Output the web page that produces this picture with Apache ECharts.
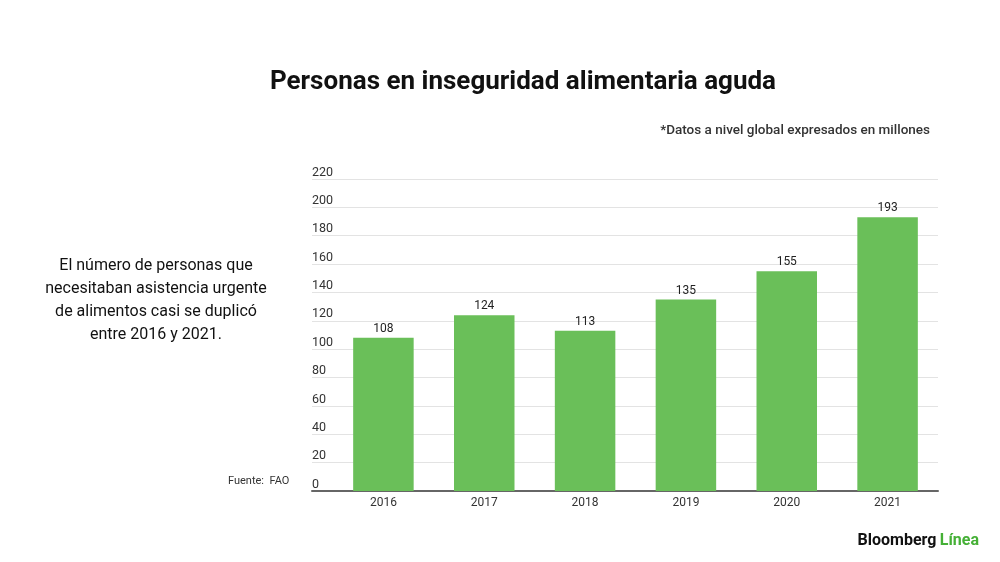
<!DOCTYPE html>
<html>
<head>
<meta charset="utf-8">
<script src="https://cdn.jsdelivr.net/npm/echarts@6/dist/echarts.min.js"></script>
<style>html,body{margin:0;padding:0;background:#fff;}#c{width:1000px;height:562px;}</style>
</head>
<body>
<div id="c"></div>
<script>
var categories = ['2016', '2017', '2018', '2019', '2020', '2021'];
var values = [108, 124, 113, 135, 155, 193];
var yTicks = [0, 20, 40, 60, 80, 100, 120, 140, 160, 180, 200, 220];

var chart = echarts.init(document.getElementById('c'), null, {renderer: 'canvas'});
var FONT = 'Roboto';
chart.setOption({
  backgroundColor: '#ffffff',
  animation: false,
  textStyle: {fontFamily: FONT},
  title: [
    {text: 'Personas en inseguridad alimentaria aguda', left: 523, top: 69, textAlign: 'center', padding: 0,
     textStyle: {fontFamily: FONT, fontSize: 26, fontWeight: 'bold', color: '#111'}},
    {text: '*Datos a nivel global expresados en millones', right: 70, top: 124, padding: 0,
     textStyle: {fontFamily: FONT, fontSize: 13.5, fontWeight: 500, color: '#333'}},
    {text: 'El número de personas que\nnecesitaban asistencia urgente\nde alimentos casi se duplicó\nentre 2016 y 2021.', left: 156, top: 254, textAlign: 'center', padding: 0,
     textStyle: {fontFamily: FONT, fontSize: 16, fontWeight: 'normal', color: '#111', lineHeight: 23}},
    {text: 'Fuente:  FAO', left: 228, top: 476, padding: 0,
     textStyle: {fontFamily: FONT, fontSize: 11, fontWeight: 'normal', color: '#333'}}
  ],
  graphic: [
    {type: 'text', right: 21, top: 533, style: {
      text: '{a|Bloomberg} {b|Línea}',
      rich: {
        a: {fontFamily: FONT, fontSize: 16, fontWeight: 'bold', fill: '#111'},
        b: {fontFamily: FONT, fontSize: 16, fontWeight: 'bold', fill: '#45b036'}
      }
    }}
  ],
  grid: [
    {left: 312, right: 62, top: 179, bottom: 71},
    {left: 333, right: 62, top: 179, bottom: 71}
  ],
  xAxis: [
    {gridIndex: 0, type: 'value', min: 0, max: 1, axisLabel: {show: false}, axisTick: {show: false},
     splitLine: {show: false}, axisLine: {show: true, onZero: false, lineStyle: {color: '#666', width: 2}}},
    {gridIndex: 1, type: 'category', data: categories, axisLine: {show: false}, axisTick: {show: false},
     axisLabel: {margin: 6, fontFamily: FONT, fontSize: 12, color: '#333'}}
  ],
  yAxis: [
    {gridIndex: 0, type: 'value', min: 0, max: 220, interval: 20,
     axisLine: {show: false}, axisTick: {show: false},
     axisLabel: {inside: true, verticalAlign: 'bottom', margin: 0, padding: [0, 0, 0, 0], fontFamily: FONT, fontSize: 12.5, color: '#333'},
     splitLine: {show: true, lineStyle: {color: '#e3e3e3', width: 1}}},
    {gridIndex: 1, type: 'value', min: 0, max: 220, interval: 20, show: false, splitLine: {show: false}}
  ],
  series: [
    {type: 'bar', xAxisIndex: 1, yAxisIndex: 1, data: values, barCategoryGap: '40%',
     itemStyle: {color: '#6abf59'},
     label: {show: true, position: 'top', distance: 3, fontFamily: FONT, fontSize: 12, color: '#222'}}
  ]
});
</script>
</body>
</html>
